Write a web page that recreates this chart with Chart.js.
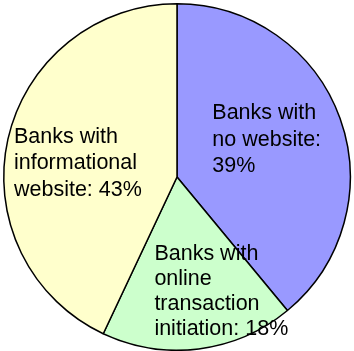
<!DOCTYPE html>
<html>
<head>
<meta charset="utf-8">
<script src="https://cdn.jsdelivr.net/npm/chart.js@4/dist/chart.umd.min.js"></script>
<style>
  html, body { margin: 0; padding: 0; background: #ffffff; }
  #wrap { width: 354px; height: 351px; }
</style>
</head>
<body>
<div id="wrap"><canvas id="c" width="354" height="351"></canvas></div>
<script>
// Share of banks by type of web presence (percent)
const categories = ["No website", "Online transaction initiation", "Informational website"];
const values = [39, 18, 43];
const labelLines = [
  ["Banks with", "no website:", "{v}%"],
  ["Banks with", "online", "transaction", "initiation: {v}%"],
  ["Banks with", "informational", "website: {v}%"]
];

const colors = ["#9999FF", "#CCFFCC", "#FFFFCC"];

// Placement of each text block: angle (deg, clockwise from 12 o'clock) and
// distance as a fraction of the outer radius, plus line spacing.
const labelPlacement = [
  { angle: 66.6, dist: 0.564, lh: 26.5 },
  { angle: 158.5, dist: 0.698, lh: 25 },
  { angle: 278.9, dist: 0.579, lh: 26.5 }
];

const FONT_SIZE = 21.5;
const FONT = FONT_SIZE + "px 'Liberation Sans', Arial, sans-serif";

const sliceLabels = {
  id: "sliceLabels",
  afterDatasetsDraw(chart) {
    const ctx = chart.ctx;
    const meta = chart.getDatasetMeta(0);
    ctx.save();
    ctx.font = FONT;
    ctx.fillStyle = "#000000";
    ctx.textAlign = "left";
    ctx.textBaseline = "alphabetic";
    const cap = FONT_SIZE * 0.716;
    meta.data.forEach((arc, i) => {
      const p = arc.getProps(["x", "y", "outerRadius"], true);
      const place = labelPlacement[i];
      const lines = labelLines[i].map(s => s.replace("{v}", values[i]));
      const a = place.angle * Math.PI / 180;
      const cx = p.x + Math.sin(a) * place.dist * p.outerRadius;
      const cy = p.y - Math.cos(a) * place.dist * p.outerRadius;
      const w = Math.max(...lines.map(s => ctx.measureText(s).width));
      const left = cx - w / 2;
      const firstBase = cy - ((lines.length - 1) * place.lh - cap) / 2;
      lines.forEach((s, k) => ctx.fillText(s, left, firstBase + k * place.lh));
    });
    ctx.restore();
  }
};

new Chart(document.getElementById("c"), {
  type: "pie",
  data: {
    labels: categories,
    datasets: [{
      data: values,
      backgroundColor: colors,
      borderColor: "#000000",
      borderWidth: 1.5
    }]
  },
  options: {
    responsive: false,
    animation: false,
    layout: { padding: { top: 3, bottom: 0, left: 0, right: 0 } },
    plugins: {
      legend: { display: false },
      tooltip: { enabled: false }
    }
  },
  plugins: [sliceLabels]
});
</script>
</body>
</html>
